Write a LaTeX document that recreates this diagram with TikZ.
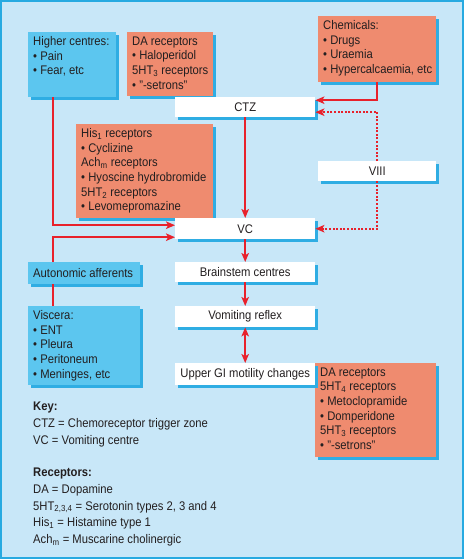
\documentclass[tikz,border=0pt]{standalone}
\usepackage{fontspec}
\setmainfont[FakeStretch=0.9]{Liberation Sans}
\usetikzlibrary{arrows.meta,shadows}
\definecolor{bgblue}{HTML}{C8E7F8}
\definecolor{frameblue}{HTML}{27AAE1}
\definecolor{boxblue}{HTML}{5CC6EF}
\definecolor{shadblue}{HTML}{2FADE3}
\definecolor{salmon}{HTML}{EF8B6F}
\definecolor{arrred}{HTML}{E8212B}
\definecolor{ink}{HTML}{231F20}
\begin{document}
\begin{tikzpicture}[x=1pt,y=-1pt,
  basebox/.style={draw=none, inner sep=0pt, anchor=north west,
    drop shadow={shadow xshift=2.5pt, shadow yshift=-2.5pt, fill=shadblue, opacity=1}},
  bluebox/.style={basebox, fill=boxblue},
  salbox/.style={basebox, fill=salmon},
  whitebox/.style={basebox, fill=white, text=ink, font=\fontsize{12.5}{14.6}\selectfont},
  txt/.style={anchor=north west, align=left, inner xsep=5pt, inner ysep=4.5pt,
    font=\fontsize{12.5}{14.6}\selectfont, text=ink},
  keytxt/.style={anchor=north west, align=left, inner sep=0pt,
    font=\fontsize{12.5}{16.6}\selectfont, text=ink},
  tip/.style={Stealth[length=9pt,width=7.5pt,inset=2.2pt]},
  arr/.style={draw=arrred, line width=1.8pt, -{Stealth[length=9pt,width=7.5pt,inset=2.2pt]}},
  lin/.style={draw=arrred, line width=1.8pt},
  darr/.style={arr, line width=1.6pt, dash pattern=on 2pt off 1.6pt},
  dblarr/.style={draw=arrred, line width=1.8pt, {Stealth[length=9pt,width=7.5pt,inset=2.2pt]}-{Stealth[length=9pt,width=7.5pt,inset=2.2pt]}}
]
\useasboundingbox (0,0) rectangle (464,559);
\draw[draw=frameblue, fill=bgblue, line width=2.2pt] (1.1,1.1) rectangle (462.9,557.9);

% boxes
\node[bluebox, minimum width=88pt, minimum height=65pt] (hc) at (28,32) {};
\node[txt] at (hc.north west) {Higher centres:\\\textbullet\ Pain\\\textbullet\ Fear, etc};

\node[salbox, minimum width=86pt, minimum height=64pt] (da1) at (127,32) {};
\node[txt] at (da1.north west) {DA receptors\\\textbullet\ Haloperidol\\5HT\textsubscript{3} receptors\\\textbullet\ "-setrons"};

\node[salbox, minimum width=118pt, minimum height=66pt] (chem) at (318,16) {};
\node[txt] at (chem.north west) {Chemicals:\\\textbullet\ Drugs\\\textbullet\ Uraemia\\\textbullet\ Hypercalcaemia, etc};

\node[whitebox, minimum width=140pt, minimum height=20pt] (ctz) at (175,97) {CTZ};

\node[salbox, minimum width=137pt, minimum height=94pt] (his) at (76,124) {};
\node[txt] at (his.north west) {His\textsubscript{1} receptors\\\textbullet\ Cyclizine\\Ach\textsubscript{m} receptors\\\textbullet\ Hyoscine hydrobromide\\5HT\textsubscript{2} receptors\\\textbullet\ Levomepromazine};

\node[whitebox, minimum width=118pt, minimum height=20pt] (viii) at (318,161) {VIII};
\node[whitebox, minimum width=140pt, minimum height=21pt] (vc) at (175,218) {VC};

\node[bluebox, minimum width=112pt, minimum height=22pt] (auto) at (28,262) {};
\node[txt, anchor=west, text=ink] at (auto.west) {Autonomic afferents};

\node[whitebox, minimum width=140pt, minimum height=20pt] (brain) at (175,262) {Brainstem centres};
\node[whitebox, minimum width=140pt, minimum height=21pt] (vomit) at (175,306) {Vomiting reflex};

\node[bluebox, minimum width=112pt, minimum height=79pt] (visc) at (28,306) {};
\node[txt] at (visc.north west) {Viscera:\\\textbullet\ ENT\\\textbullet\ Pleura\\\textbullet\ Peritoneum\\\textbullet\ Meninges, etc};

\node[salbox, minimum width=121pt, minimum height=94pt] (da2) at (315,363) {};
\node[txt] at (da2.north west) {DA receptors\\5HT\textsubscript{4} receptors\\\textbullet\ Metoclopramide\\\textbullet\ Domperidone\\5HT\textsubscript{3} receptors\\\textbullet\ "-setrons"};

\node[whitebox, minimum width=140pt, minimum height=22pt] (ugi) at (175,363) {Upper GI motility changes};

% key
\node[keytxt] (key) at (33,402) {\textbf{Key:}\\CTZ = Chemoreceptor trigger zone\\VC = Vomiting centre};
\node[keytxt] (rec) at (33,468) {\textbf{Receptors:}\\DA = Dopamine\\5HT\textsubscript{2,3,4} = Serotonin types 2, 3 and 4\\His\textsubscript{1} = Histamine type 1\\Ach\textsubscript{m} = Muscarine cholinergic};

% connectors
\draw[arr] (chem.south) |- ([yshift=7pt]ctz.east);
\draw[darr] (viii.north) |- ([yshift=-5pt]ctz.east);
\draw[darr] (viii.south) |- (vc.east);
\draw[arr] (ctz.south) -- (vc.north);
\draw[arr] ([xshift=-19pt]hc.south) |- ([yshift=3.5pt]vc.west);
\draw[arr] ([xshift=-31pt]auto.north) |- ([yshift=-8.5pt]vc.west);
\draw[lin] ([xshift=-31pt]visc.north) -- ([xshift=-31pt]auto.south);
\draw[arr] (vc.south) -- (brain.north);
\draw[arr] (brain.south) -- (vomit.north);
\draw[dblarr] (vomit.south) -- (ugi.north);
\end{tikzpicture}
\end{document}
